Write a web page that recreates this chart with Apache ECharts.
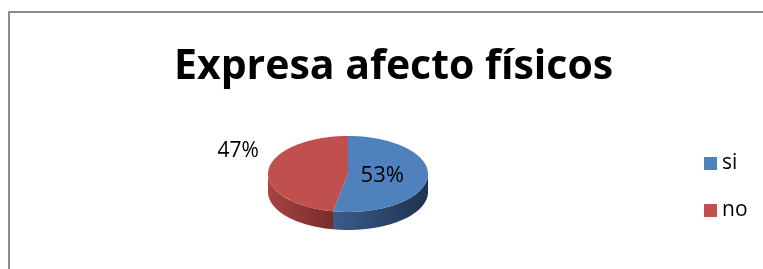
<!DOCTYPE html>
<html>
<head>
<meta charset="utf-8">
<script src="https://cdn.jsdelivr.net/npm/echarts@6/dist/echarts.min.js"></script>
<style>
  html, body { margin: 0; padding: 0; background: #fff; }
  #chart { width: 763px; height: 269px; }
</style>
</head>
<body>
<div id="chart"></div>
<script>
// datos del gráfico
const titleText = 'Expresa afecto físicos'
const categories = ['si', 'no']
const values = [53, 47]

// estilo tipo Excel 2007
const topColors = ['#4F81BD', '#C0504D']
const sideColors = [['#3A5C8A', '#1E3252'], ['#A64442', '#782C2A']]

const chart = echarts.init(document.getElementById('chart'))
const total = values.reduce((a, b) => a + b, 0)

// geometría del pastel "3D"
const cx = 348, cy = 174, rx = 80, ry = 38, depth = 18

function pt(deg, dy) {
  const r = deg * Math.PI / 180
  return [cx + rx * Math.sin(r), cy - ry * Math.cos(r) + (dy || 0)]
}

function arc(a0, a1, dy) {
  const pts = []
  const n = Math.max(2, Math.ceil(Math.abs(a1 - a0) / 2))
  for (let i = 0; i <= n; i++) pts.push(pt(a0 + (a1 - a0) * i / n, dy))
  return pts
}

function sliceRenderer(idx) {
  return function (params, api) {
    const before = values.slice(0, idx).reduce((a, b) => a + b, 0)
    const v = api.value(0)
    const start = before / total * 360
    const end = start + v / total * 360
    const children = []

    // cara lateral (solo la parte delantera)
    const lo = Math.max(start, 90), hi = Math.min(end, 270)
    if (lo < hi) {
      children.push({
        type: 'polygon',
        shape: { points: arc(lo, hi, 0).concat(arc(hi, lo, depth)) },
        style: {
          fill: new echarts.graphic.LinearGradient(0, 0, 1, 0, [
            { offset: 0, color: sideColors[idx][0] },
            { offset: 1, color: sideColors[idx][1] }
          ])
        }
      })
    }

    // cara superior
    children.push({
      type: 'polygon',
      shape: { points: [[cx, cy]].concat(arc(start, end, 0)) },
      style: { fill: topColors[idx] }
    })

    // etiqueta de porcentaje
    const mid = (start + end) / 2
    const r = mid * Math.PI / 180
    const pct = Math.round(v / total * 100) + '%'
    let lp
    if (v / total > 0.5) {
      lp = [cx + rx * 0.43 * Math.sin(r), cy - ry * 0.43 * Math.cos(r)]
    } else {
      lp = [cx + rx * 1.38 * Math.sin(r), cy - ry * 1.38 * Math.cos(r) - 18]
    }
    children.push({
      type: 'text',
      x: lp[0], y: lp[1],
      style: {
        text: pct,
        fill: '#000',
        font: (v / total > 0.5 ? 22 : 21) + 'px "Open Sans"',
        align: 'center',
        verticalAlign: 'middle'
      }
    })

    return { type: 'group', children }
  }
}

const option = {
  animation: false,
  title: {
    text: titleText,
    left: 169,
    top: 42,
    textStyle: {
      fontFamily: 'Open Sans',
      fontWeight: 'bold',
      fontSize: 41,
      color: '#000'
    }
  },
  legend: {
    orient: 'vertical',
    left: 699,
    top: 148,
    itemWidth: 13,
    itemHeight: 13,
    itemGap: 26,
    icon: 'rect',
    data: categories,
    textStyle: { fontFamily: 'Open Sans', fontSize: 21, color: '#000' }
  },
  graphic: [{
    type: 'polyline',
    shape: { points: [[9, 300], [9, 12], [800, 12]] },
    style: { stroke: '#8c8c8c', lineWidth: 2, fill: null }
  }],
  series: categories.map((name, i) => ({
    type: 'custom',
    name: name,
    coordinateSystem: 'none',
    itemStyle: { color: topColors[i] },
    data: [[values[i]]],
    renderItem: sliceRenderer(i)
  }))
}

chart.setOption(option)
</script>
</body>
</html>
